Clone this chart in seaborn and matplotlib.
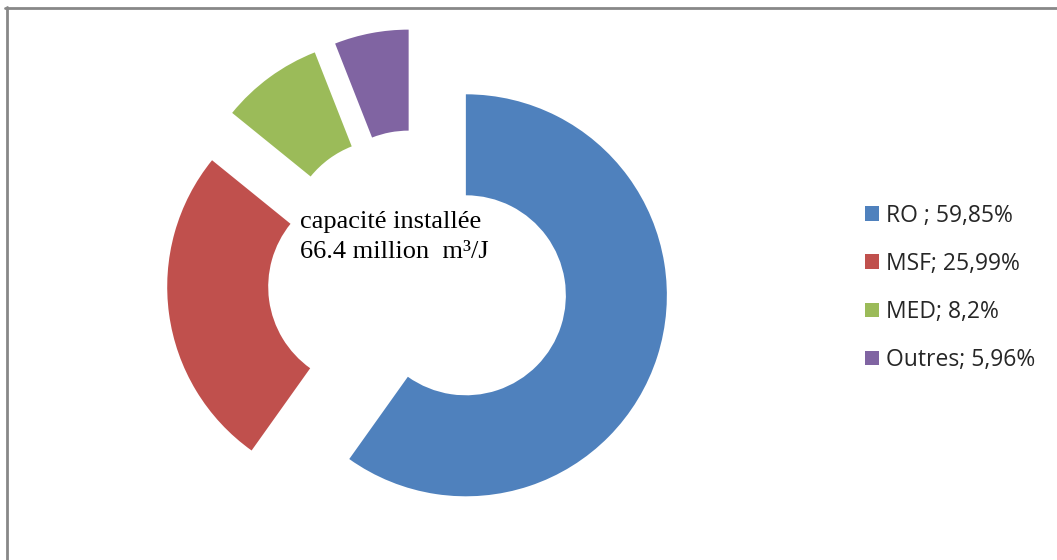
import matplotlib
matplotlib.use("Agg")
import matplotlib.pyplot as plt
from matplotlib.lines import Line2D
import seaborn as sns

# Installed desalination capacity by process
categories = ["RO", "MSF", "MED", "Outres"]
shares = [59.85, 25.99, 8.2, 5.96]
legend_labels = ["RO ; 59,85%", "MSF; 25,99%", "MED; 8,2%", "Outres; 5,96%"]
center_lines = ["capacité installée", "66.4 million  m³/J"]

sns.set_style("white")
palette = sns.color_palette(["#4F81BD", "#C0504D", "#9BBB59", "#8064A2"])

W, H = 1057, 560
fig = plt.figure(figsize=(W / 100, H / 100), dpi=100)
ax = fig.add_axes([0, 0, 1, 1])

# pixel-based coordinate frame for the donut
radius = 201
hole_width = 101
cx, cy = 418, H - 280
explode = [0.25 * radius] * len(shares)

wedges, _ = ax.pie(
    shares,
    colors=palette,
    startangle=90,
    counterclock=False,
    radius=radius,
    center=(cx, cy),
    explode=explode,
    wedgeprops=dict(width=hole_width, linewidth=0),
    frame=True,
)
ax.set_xlim(0, W)
ax.set_ylim(0, H)
ax.set_aspect("auto")
ax.axis("off")

# centre caption
serif = ["Liberation Serif", "DejaVu Serif"]
fig.text(300 / W, 1 - 228 / H, center_lines[0], family=serif, fontsize=19,
         ha="left", va="baseline", color="black")
fig.text(300 / W, 1 - 258 / H, center_lines[1], family=serif, fontsize=19,
         ha="left", va="baseline", color="black")

# legend on the right
leg = fig.legend(
    wedges, legend_labels,
    loc="center left",
    bbox_to_anchor=(865 / W, 1 - 288 / H),
    frameon=False,
    prop=dict(family=["Open Sans", "DejaVu Sans"], size=16.5),
    handlelength=0.62, handleheight=0.62,
    handletextpad=0.3,
    labelspacing=1.05,
    borderaxespad=0, borderpad=0,
)

# chart frame (top and left edges)
frame_color = "#888888"
fig.add_artist(Line2D([5 / W, 1], [1 - 7.5 / H, 1 - 7.5 / H],
                      transform=fig.transFigure, color=frame_color, lw=2))
fig.add_artist(Line2D([7 / W, 7 / W], [0, 1 - 6.5 / H],
                      transform=fig.transFigure, color=frame_color, lw=2))

fig.savefig("out.png", dpi=100, facecolor="white")
